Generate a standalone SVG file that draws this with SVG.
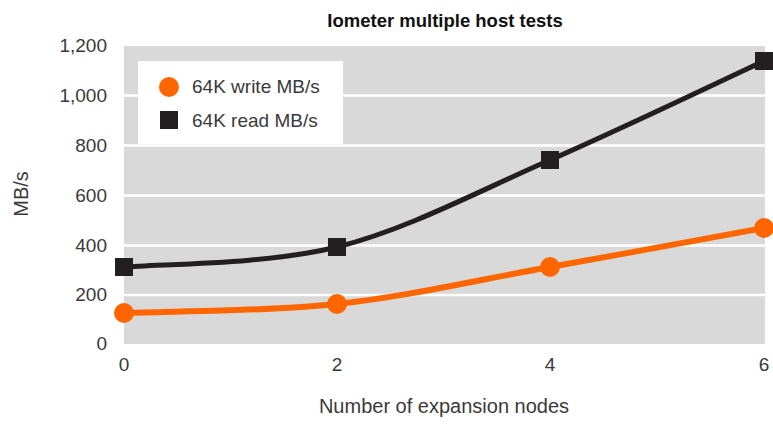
<svg xmlns="http://www.w3.org/2000/svg" width="773" height="425" viewBox="0 0 773 425">
<style>
text{font-family:"Liberation Sans",Arial,sans-serif;fill:#3a3a3a}
.tick{font-size:19px}
.ytick{text-anchor:end}
.xtick{text-anchor:middle}
.grid{stroke:#ffffff;stroke-width:2.5}
.write{fill:none;stroke:#ff6600;stroke-width:6;stroke-linecap:round}
.read{fill:none;stroke:#231f20;stroke-width:5;stroke-linecap:round}
.wdot{fill:#ff6600}
.rsq{fill:#231f20}
</style>
<rect width="773" height="425" fill="#ffffff"/>
<g id="title"><text x="445" y="27" font-size="18.5" font-weight="bold" text-anchor="middle" style="fill:#111">Iometer multiple host tests</text></g>
<g id="plot-area">
<rect x="124" y="46" width="641" height="298" fill="#d9d9d9"/>
<line class="grid" x1="124" y1="95.5" x2="765" y2="95.5"/>
<line class="grid" x1="124" y1="145.5" x2="765" y2="145.5"/>
<line class="grid" x1="124" y1="195.5" x2="765" y2="195.5"/>
<line class="grid" x1="124" y1="245.5" x2="765" y2="245.5"/>
<line class="grid" x1="124" y1="295" x2="765" y2="295"/>
</g>
<g id="y-axis" class="tick">
<text class="tick ytick" x="107" y="52">1,200</text>
<text class="tick ytick" x="107" y="102">1,000</text>
<text class="tick ytick" x="107" y="152">800</text>
<text class="tick ytick" x="107" y="202">600</text>
<text class="tick ytick" x="107" y="252">400</text>
<text class="tick ytick" x="107" y="301">200</text>
<text class="tick ytick" x="107" y="350">0</text>
<text x="28" y="194" font-size="20" text-anchor="middle" transform="rotate(-90 28 194)">MB/s</text>
</g>
<g id="x-axis">
<text class="tick xtick" x="124" y="371">0</text>
<text class="tick xtick" x="337" y="371">2</text>
<text class="tick xtick" x="550" y="371">4</text>
<text class="tick xtick" x="764" y="371">6</text>
<text x="444" y="413" font-size="20" text-anchor="middle">Number of expansion nodes</text>
</g>
<g id="connectors">
<path id="read-line" class="read" d="M124,267 C159.5,263.7 266,264.8 337,247 C408,229.2 478.8,191 550,160 C621.2,129 728.3,77.5 764,61"/>
<path id="write-line" class="write" d="M124,313 C159.5,311.5 266,311.7 337,304 C408,296.3 478.8,279.7 550,267 C621.2,254.3 728.3,234.5 764,228"/>
</g>
<g id="read-points">
<rect class="rsq" x="115" y="258" width="18" height="18"/>
<rect class="rsq" x="328" y="238" width="18" height="18"/>
<rect class="rsq" x="541" y="151" width="18" height="18"/>
<rect class="rsq" x="755" y="52" width="18" height="18"/>
</g>
<g id="write-points">
<circle class="wdot" cx="124" cy="313" r="10"/>
<circle class="wdot" cx="337" cy="304" r="10"/>
<circle class="wdot" cx="550" cy="267" r="10"/>
<circle class="wdot" cx="764" cy="228" r="10"/>
</g>
<g id="legend">
<rect x="138" y="61" width="205" height="83" fill="#ffffff"/>
<circle class="wdot" cx="169" cy="87" r="10"/>
<text x="192" y="93" font-size="19">64K write MB/s</text>
<rect class="rsq" x="160" y="111" width="18" height="18"/>
<text x="192" y="127" font-size="19">64K read MB/s</text>
</g>
</svg>
